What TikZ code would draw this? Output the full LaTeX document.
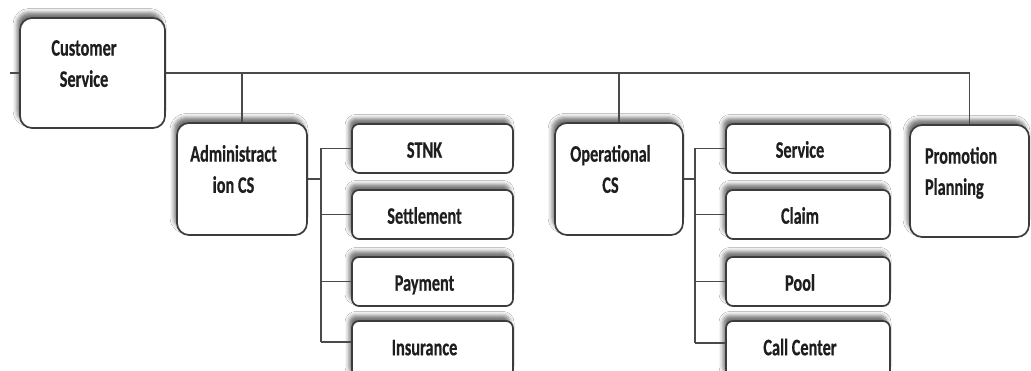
\documentclass[tikz,border=0pt]{standalone}
\usepackage{fontspec}
\setmainfont{Carlito}[BoldFeatures={FakeBold=0.6}]
\usepackage{graphicx}
\usetikzlibrary{shadows.blur}
\definecolor{edgec}{HTML}{3C3C3C}
\definecolor{wirec}{HTML}{4A4A4A}
\definecolor{textc}{HTML}{1E1E1E}
\newcommand\boxtext[2][c]{\scalebox{1}[1.45]{\fontsize{16.3}{21.5}\selectfont\bfseries\color{textc}\begin{tabular}{@{}#1@{}}#2\end{tabular}}}
\begin{document}
\begin{tikzpicture}[x=1pt,y=-1pt,
  box/.style={draw=edgec, line width=1.7pt, fill=white, rounded corners=12pt, inner sep=0pt,
    blur shadow={shadow xshift=-3pt, shadow yshift=5.5pt, shadow opacity=55, shadow blur radius=4pt}},
  small/.style={box, rounded corners=7pt, minimum height=49pt},
  bigt/.style={xshift=-8.5pt, yshift=8pt},
  ctxt/.style={xshift=-8pt, yshift=-3pt},
  ltxt/.style={xshift=-8pt, yshift=1pt},
  wire/.style={draw=wirec, line width=1.6pt}]
\useasboundingbox[fill=white] (0,0) rectangle (1031,371);

% top level
\node[box, minimum width=145pt, minimum height=110pt,
  label={[bigt]center:\boxtext{Customer\\Service}}] (cs) at (92.5,73) {};

% second level
\node[box, minimum width=130pt, minimum height=112pt,
  label={[bigt]center:\boxtext{Administract\\ion CS}}] (ad) at (242,179) {};
\node[box, minimum width=128pt, minimum height=112pt,
  label={[bigt]center:\boxtext{Operational\\CS}}] (op) at (619,179) {};
\node[box, minimum width=119pt, minimum height=112pt,
  label={[bigt]center:\boxtext[l]{Promotion\\Planning}}] (pp) at (969.5,181) {};

% administration children
\node[small, minimum width=161pt, label={[ctxt]center:\boxtext{STNK}}] (stnk) at (432.5,148.5) {};
\node[small, minimum width=161pt, label={[ctxt]center:\boxtext{Settlement}}] (settle) at (432.5,214.5) {};
\node[small, minimum width=161pt, label={[ctxt]center:\boxtext{Payment}}] (pay) at (432.5,281.5) {};
\node[small, minimum width=161pt, minimum height=58pt, label={[ltxt]center:\boxtext{Insurance}}] (ins) at (432.5,350) {};

% operational children
\node[small, minimum width=164pt, label={[ctxt]center:\boxtext{Service}}] (serv) at (808,148.5) {};
\node[small, minimum width=164pt, label={[ctxt]center:\boxtext{Claim}}] (claim) at (808,214.5) {};
\node[small, minimum width=164pt, label={[ctxt]center:\boxtext{Pool}}] (pool) at (808,281.5) {};
\node[small, minimum width=164pt, minimum height=58pt, label={[ltxt]center:\boxtext{Call Center}}] (call) at (808,350) {};

% connectors
\coordinate (lstub) at (10,73);
\draw[wire] (lstub) -- (cs.west);
\draw[wire] (cs.east) -| (pp.north);
\draw[wire] (ad.north) -- (ad.north |- cs.east);
\draw[wire] (op.north) -- (op.north |- cs.east);

\coordinate (abus) at ([xshift=-30pt]stnk.west);
\coordinate (aend) at ([yshift=8pt]ins.west);
\draw[wire] (ad.east) -- (ad.east -| abus);
\draw[wire] (abus) -- (abus |- aend);
\draw[wire] (stnk.west) -- (stnk.west -| abus);
\draw[wire] (settle.west) -- (settle.west -| abus);
\draw[wire] (pay.west) -- (pay.west -| abus);
\draw[wire] (aend) -- (aend -| abus);

\coordinate (obus) at ([xshift=-30pt]serv.west);
\coordinate (oend) at ([yshift=7pt]call.west);
\draw[wire] (op.east) -- (op.east -| obus);
\draw[wire] (obus) -- (obus |- oend);
\draw[wire] (serv.west) -- (serv.west -| obus);
\draw[wire] (claim.west) -- (claim.west -| obus);
\draw[wire] (pool.west) -- (pool.west -| obus);
\draw[wire] (oend) -- (oend -| obus);
\end{tikzpicture}
\end{document}
